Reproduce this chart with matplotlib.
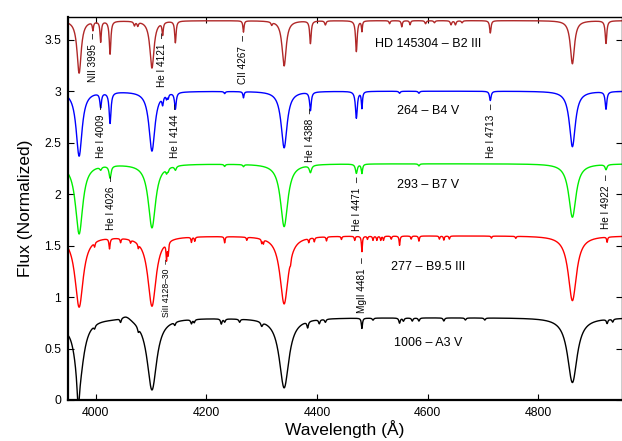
"""
Spectral sequence B2 III -> A3 V, normalized flux with vertical offsets.
Each spectrum is rebuilt from its continuum level plus a list of absorption
lines (centre, depth, Lorentz half-width) read off the reference figure.
"""
import numpy as np
import matplotlib
matplotlib.use("Agg")
import matplotlib.pyplot as plt

plt.rcParams["font.family"] = ["Liberation Sans", "DejaVu Sans"]

WAVE_MIN, WAVE_MAX = 3950.0, 4950.0
BALMER = [3970.1, 4101.7, 4340.5, 4861.3]          # H-eps, H-delta, H-gamma, H-beta

STARS = ["HD 145304 – B2 III", "264 – B4 V", "293 – B7 V",
         "277 – B9.5 III", "1006 – A3 V"]
COLORS = ["#b02828", "#0000ff", "#00ee00", "#ff0000", "#000000"]
CONTINUUM = [3.685, 3.00, 2.295, 1.595, 0.80]
NAME_Y = [3.456, 2.806, 2.087, 1.29, 0.553]

# Balmer depth (flux units) per star, and Lorentz half width (A) per star
BALMER_DEPTH = [
    [0.51, 0.46, 0.44, 0.42],
    [0.63, 0.58, 0.55, 0.54],
    [0.68, 0.62, 0.61, 0.52],
    [0.69, 0.68, 0.66, 0.63],
    [0.57, 0.70, 0.68, 0.63],
]
BALMER_WIDTH = [4.5, 6.5, 8.0, 9.0, 10.5]

# (centre A, depth, half width A) - He / metal lines
LINES_B2 = [(3995, 0.08, 1.2), (4009, 0.20, 1.4), (4026, 0.32, 1.7),
            (4070, 0.04, 1.5), (4076, 0.04, 1.5), (4121, 0.12, 1.3),
            (4144, 0.21, 1.5), (4267, 0.11, 1.2), (4318, 0.03, 1.5),
            (4388, 0.22, 1.6), (4415, 0.04, 1.5), (4471, 0.30, 1.7),
            (4481, 0.10, 1.0), (4531, 0.03, 1.2), (4553, 0.06, 1.2),
            (4568, 0.04, 1.2), (4596, 0.03, 1.5), (4612, 0.02, 1.5),
            (4642, 0.04, 1.5), (4650, 0.04, 1.5), (4662, 0.02, 1.5),
            (4713, 0.12, 1.5), (4922, 0.22, 1.7)]
LINES_B4 = [(4009, 0.14, 1.7), (4026, 0.30, 2.0), (4121, 0.08, 1.5),
            (4128, 0.04, 1.2), (4131, 0.04, 1.2), (4144, 0.16, 1.8),
            (4233, 0.02, 1.5), (4267, 0.06, 1.2), (4388, 0.18, 1.8),
            (4471, 0.26, 2.0), (4481, 0.16, 1.2), (4549, 0.02, 1.5),
            (4584, 0.02, 1.5), (4713, 0.09, 1.7), (4922, 0.17, 1.8)]
LINES_B7 = [(4009, 0.03, 2.0), (4026, 0.12, 2.2), (4128, 0.04, 1.5),
            (4131, 0.03, 1.5), (4144, 0.04, 2.0), (4233, 0.02, 1.5),
            (4267, 0.02, 1.5), (4388, 0.07, 2.4), (4471, 0.09, 2.0),
            (4481, 0.09, 1.4), (4584, 0.02, 1.5), (4922, 0.05, 2.0)]
LINES_B95 = [(3998, 0.04, 1.0), (4025, 0.10, 1.2), (4045, 0.04, 1.0),
             (4063, 0.03, 1.0), (4077, 0.04, 1.0), (4128, 0.16, 1.0),
             (4131, 0.12, 1.0), (4173, 0.05, 1.0), (4179, 0.04, 1.0),
             (4233, 0.06, 1.0), (4273, 0.03, 1.0), (4300, 0.04, 1.0),
             (4303, 0.04, 1.0), (4352, 0.04, 1.0), (4385, 0.04, 1.0),
             (4395, 0.04, 1.0), (4417, 0.04, 1.0), (4444, 0.03, 1.0),
             (4468, 0.04, 1.0), (4481, 0.15, 1.0), (4491, 0.03, 1.0),
             (4501, 0.04, 1.0), (4508, 0.04, 1.0), (4515, 0.04, 1.0),
             (4520, 0.04, 1.0), (4534, 0.03, 1.0), (4549, 0.09, 1.0),
             (4570, 0.03, 1.0), (4584, 0.05, 1.0), (4621, 0.03, 1.0),
             (4629, 0.04, 1.0), (4639, 0.03, 1.0), (4715, 0.02, 1.0),
             (4759, 0.02, 1.0), (4924, 0.05, 1.0)]
LINES_A3 = [(3933.7, 0.48, 5.0), (3968.5, 0.30, 2.5), (3998, 0.03, 1.5),
            (4045, 0.04, 1.5), (4055, -0.05, 12.0), (4077, 0.04, 1.5),
            (4143, 0.03, 1.5), (4173, 0.04, 1.5), (4178, 0.03, 1.5),
            (4227, 0.05, 1.5), (4233, 0.03, 1.5), (4260, 0.03, 1.5),
            (4300, 0.04, 2.0), (4383, 0.06, 1.5), (4404, 0.04, 1.5),
            (4415, 0.03, 1.5), (4481, 0.10, 1.2), (4501, 0.02, 1.5),
            (4549, 0.05, 1.5), (4556, 0.03, 1.5), (4572, 0.03, 1.5),
            (4584, 0.03, 1.5), (4629, 0.03, 1.5), (4668, 0.02, 1.5),
            (4703, 0.02, 1.5), (4924, 0.04, 1.5), (4934, 0.03, 1.5)]
METAL_LINES = [LINES_B2, LINES_B4, LINES_B7, LINES_B95, LINES_A3]

# line identifications: text, wavelength, bottom of label (flux), size
LINE_IDS = [("NII 3995", 3995, 3.09, 7.2), ("He I 4121", 4120, 3.036, 7.2),
            ("CII 4267", 4267, 3.068, 7.2), ("He I 4009", 4010, 2.352, 7.2),
            ("He I 4144", 4144, 2.352, 7.2), ("He I 4388", 4388, 2.31, 7.2),
            ("He I 4713", 4714, 2.347, 7.2), ("He I 4026", 4028, 1.65, 7.2),
            ("He I 4471", 4473, 1.644, 7.2), ("He I 4922", 4922, 1.657, 7.2),
            ("SiII 4128–30", 4128, 0.806, 6.2), ("MgII 4481", 4481, 0.845, 7.2)]


def lorentz(w, centre, depth, width):
    return depth / (1.0 + ((w - centre) / width) ** 2)


def build_spectrum(i, w):
    flux = np.full_like(w, CONTINUUM[i])
    for c, d in zip(BALMER, BALMER_DEPTH[i]):
        flux -= lorentz(w, c, d, BALMER_WIDTH[i])
    for c, d, hw in METAL_LINES[i]:
        flux -= lorentz(w, c, d, hw)
    return flux


wave = np.arange(WAVE_MIN, WAVE_MAX + 0.25, 0.5)

fig = plt.figure(figsize=(6.22, 4.41), dpi=100)
ax = fig.add_axes([68 / 622, 41 / 441, 553.5 / 622, 383 / 441])

for i, name in enumerate(STARS):
    ax.plot(wave, build_spectrum(i, wave), color=COLORS[i], lw=1.0)
    ax.text(4600, NAME_Y[i], name, ha="center", va="center", fontsize=9)

for txt, lam, ybot, fs in LINE_IDS:
    ax.text(lam, ybot, txt + "  –", rotation=90, ha="center", va="bottom",
            fontsize=fs)

ax.set_xlim(WAVE_MIN, WAVE_MAX)
ax.set_ylim(0, 3.72)
ax.set_xticks([4000, 4200, 4400, 4600, 4800])
ax.set_yticks([0, 0.5, 1, 1.5, 2, 2.5, 3, 3.5])
ax.set_yticklabels(["0", "0.5", "1", "1.5", "2", "2.5", "3", "3.5"])
ax.tick_params(direction="in", length=4, top=True, right=True, labelsize=8.8,
               pad=5)
for s in ["left", "bottom"]:
    ax.spines[s].set_linewidth(1.6)
for s in ["top", "right"]:
    ax.spines[s].set_linewidth(1.0)

ax.set_xlabel("Wavelength (Å)", fontsize=12.5, labelpad=1)
ax.set_ylabel("Flux (Normalized)", fontsize=12.5, labelpad=8)

fig.savefig("out.png", dpi=100)
